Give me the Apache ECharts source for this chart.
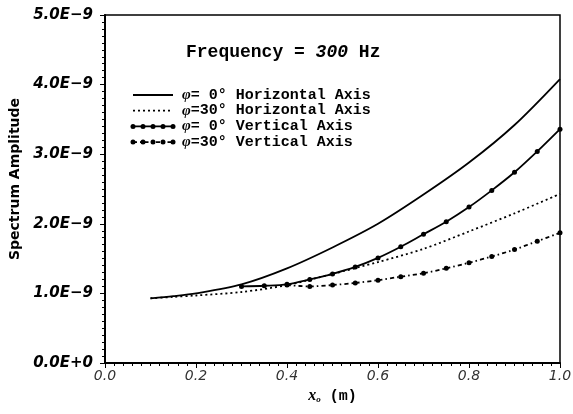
<!DOCTYPE html>
<html>
<head>
<meta charset="utf-8">
<script src="https://cdn.jsdelivr.net/npm/echarts@6/dist/echarts.min.js"></script>
<style>
html, body { margin: 0; background: #fff; }
#chart { width: 573px; height: 414px; }
</style>
</head>
<body>
<div id="chart"></div>
<script>
// amplitudes are in units of 1E-9
const xHor = [0.1, 0.15, 0.2, 0.3, 0.4, 0.5, 0.6, 0.7, 0.8, 0.9, 1.0]
const hor0 = [0.93, 0.96, 1.0, 1.13, 1.36, 1.66, 2.0, 2.42, 2.88, 3.42, 4.08]
const hor30 = [0.93, 0.95, 0.97, 1.02, 1.12, 1.28, 1.45, 1.64, 1.89, 2.15, 2.43]

const xVer0 = [0.3, 0.35, 0.4, 0.45, 0.5, 0.55, 0.6, 0.65, 0.7, 0.75, 0.8, 0.85, 0.9, 0.95, 1.0]
const ver0 = [1.10, 1.11, 1.13, 1.20, 1.28, 1.38, 1.51, 1.67, 1.85, 2.03, 2.24, 2.48, 2.74, 3.04, 3.36]

const xVer30 = [0.4, 0.45, 0.5, 0.55, 0.6, 0.65, 0.7, 0.75, 0.8, 0.85, 0.9, 0.95, 1.0]
const ver30 = [1.12, 1.10, 1.12, 1.15, 1.19, 1.24, 1.29, 1.36, 1.44, 1.53, 1.63, 1.75, 1.87]

const seriesNames = ['φ= 0° Horizontal Axis', 'φ=30° Horizontal Axis', 'φ= 0° Vertical Axis', 'φ=30° Vertical Axis']

const mono = 'Liberation Mono'
const pairs = (xs, ys) => xs.map((x, i) => [x, ys[i]])

const styles = [
  { type: 'solid', dots: false },
  { type: [2, 3], dots: false },
  { type: 'solid', dots: true },
  { type: [4, 3, 1.5, 3], dots: true }
]

// hand-drawn legend: sample line (with dots for the vertical-axis curves) + label
const legendItems = []
seriesNames.forEach((name, i) => {
  const y = 95 + i * 15.7
  legendItems.push({
    type: 'line',
    shape: { x1: 133, y1: y, x2: 173, y2: y },
    style: { stroke: '#000', lineWidth: 1.8, lineDash: styles[i].type === 'solid' ? null : styles[i].type }
  })
  if (styles[i].dots) {
    for (let k = 0; k < 5; k++) {
      legendItems.push({ type: 'circle', shape: { cx: 133 + k * 10, cy: y, r: 2.5 }, style: { fill: '#000' } })
    }
  }
  legendItems.push({
    type: 'text',
    x: 182,
    y: y,
    style: {
      text: '{p|φ}{t|' + name.slice(1) + '}',
      verticalAlign: 'middle',
      rich: {
        p: { fontFamily: 'Liberation Serif', fontStyle: 'italic', fontWeight: 'bold', fontSize: 15, fill: '#000' },
        t: { fontFamily: mono, fontWeight: 'bold', fontSize: 15, fill: '#000' }
      }
    }
  })
})

const chart = echarts.init(document.getElementById('chart'))

chart.setOption({
  animation: false,
  backgroundColor: '#fff',
  title: {
    text: '{a|Frequency = }{b|300}{a| Hz}',
    left: 181,
    top: 38,
    textStyle: {
      rich: {
        a: { fontFamily: mono, fontWeight: 'bold', fontSize: 18, color: '#000' },
        b: { fontFamily: mono, fontWeight: 'bold', fontStyle: 'italic', fontSize: 18, color: '#000' }
      }
    }
  },
  graphic: legendItems,
  grid: {
    left: 105,
    right: 13,
    top: 15,
    bottom: 51,
    show: true,
    borderColor: '#000',
    borderWidth: 1.5,
    containLabel: false,
    outerBoundsMode: 'none'
  },
  xAxis: {
    type: 'value',
    min: 0,
    max: 1,
    interval: 0.2,
    name: '{i|x}{s|o}{n| (m)}',
    nameLocation: 'middle',
    nameGap: 21,
    nameTextStyle: {
      rich: {
        i: { fontFamily: 'Liberation Serif', fontStyle: 'italic', fontWeight: 'bold', fontSize: 16, color: '#000' },
        s: { fontFamily: 'Liberation Serif', fontStyle: 'italic', fontWeight: 'bold', fontSize: 9, color: '#000', padding: [8, 0, 0, 0] },
        n: { fontFamily: mono, fontWeight: 'bold', fontSize: 15, color: '#000' }
      }
    },
    axisLine: { lineStyle: { color: '#000', width: 2 } },
    axisTick: { inside: false, length: 5, lineStyle: { color: '#000', width: 1 } },
    minorTick: { show: true, splitNumber: 10, length: 3, lineStyle: { color: '#000', width: 1 } },
    splitLine: { show: false },
    axisLabel: {
      margin: 6,
      fontFamily: 'DejaVu Sans',
      fontStyle: 'italic',
      fontSize: 14,
      color: '#333',
      formatter: v => v.toFixed(1)
    }
  },
  yAxis: {
    type: 'value',
    min: 0,
    max: 5,
    interval: 1,
    name: 'Spectrum Amplitude',
    nameLocation: 'middle',
    nameGap: 77,
    nameTextStyle: { fontFamily: 'DejaVu Sans', fontWeight: 'bold', fontSize: 14, color: '#000', padding: [0, 0, 0, 20] },
    axisLine: { lineStyle: { color: '#000', width: 2 } },
    axisTick: { inside: false, length: 5, lineStyle: { color: '#000', width: 1 } },
    minorTick: { show: true, splitNumber: 10, length: 3, lineStyle: { color: '#000', width: 1 } },
    splitLine: { show: false },
    axisLabel: {
      margin: 12,
      fontFamily: 'DejaVu Sans',
      fontStyle: 'italic',
      fontWeight: 'bold',
      fontSize: 15,
      color: '#000',
      formatter: v => v === 0 ? '0.0E+0' : v.toFixed(1) + 'E\u22129'
    }
  },
  series: seriesNames.map((name, i) => ({
    name: name,
    type: 'line',
    smooth: 0.3,
    symbol: styles[i].dots ? 'circle' : 'none',
    symbolSize: 5,
    data: [pairs(xHor, hor0), pairs(xHor, hor30), pairs(xVer0, ver0), pairs(xVer30, ver30)][i],
    lineStyle: { color: '#000', width: 1.8, type: styles[i].type },
    itemStyle: { color: '#000' }
  }))
})
</script>
</body>
</html>
